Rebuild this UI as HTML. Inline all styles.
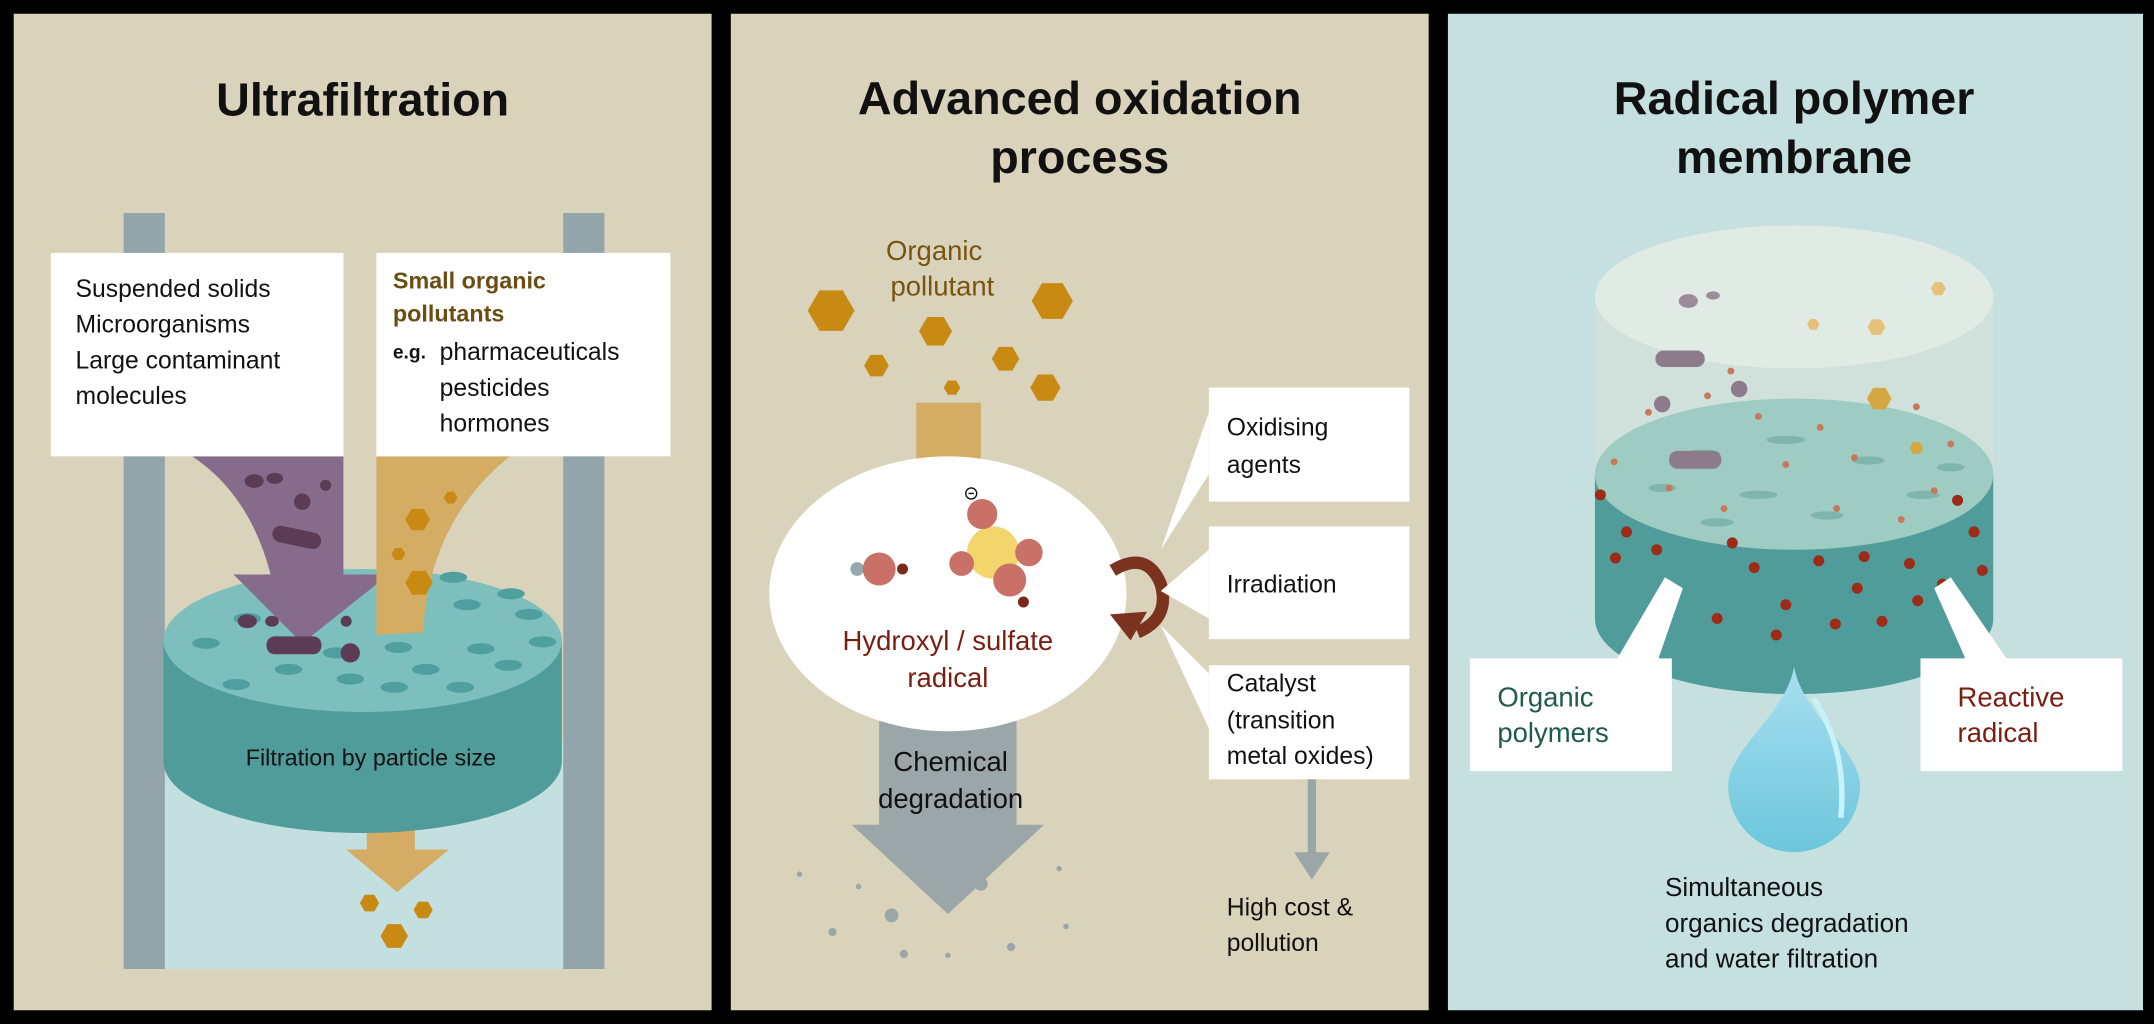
<!DOCTYPE html>
<html><head><meta charset="utf-8"><style>
html,body{margin:0;padding:0;background:#000;}
svg{display:block;}
text{font-family:"Liberation Sans",sans-serif;}
</style></head><body>
<svg width="2154" height="1024" viewBox="0 0 1568 745" preserveAspectRatio="none" xmlns="http://www.w3.org/2000/svg">
<defs>
<g id="hex"><polygon points="-0.25,-0.433 0.25,-0.433 0.5,0 0.25,0.433 -0.25,0.433 -0.5,0"/></g>
<linearGradient id="drop" x1="0" y1="0" x2="0" y2="1"><stop offset="0" stop-color="#a8dff0"/><stop offset="1" stop-color="#6cc6dc"/></linearGradient>
</defs>
<rect width="1568" height="745" fill="#000"/>
<!-- Panel 1 -->
<rect x="10" y="10" width="508" height="725" fill="#d9d3bb"/>
<text x="264" y="84" font-size="34" font-weight="bold" text-anchor="middle" fill="#111">Ultrafiltration</text>
<rect x="120" y="540" width="290" height="165" fill="#c4dfe0"/>
<rect x="90" y="155" width="30" height="550" fill="#93a5aa"/>
<rect x="410" y="155" width="30" height="550" fill="#93a5aa"/>
<path d="M267 510 L302 510 L302 618 L327 618 L289 649 L252 618 L267 618 Z" fill="#d4ac63"/>
<path d="M119 466 L119 554 A145 52 0 0 0 409 554 L409 466 Z" fill="#4f9c9a"/>
<ellipse cx="264" cy="466" rx="145" ry="52" fill="#7dbfbd"/>
<g fill="#4e9f9e">
<ellipse cx="200" cy="428" rx="10" ry="4"/><ellipse cx="240" cy="418" rx="10" ry="4"/><ellipse cx="330" cy="420" rx="10" ry="4"/><ellipse cx="372" cy="432" rx="10" ry="4"/>
<ellipse cx="180" cy="450" rx="10" ry="4"/><ellipse cx="223" cy="440" rx="10" ry="4"/><ellipse cx="340" cy="440" rx="10" ry="4"/><ellipse cx="385" cy="447" rx="10" ry="4"/>
<ellipse cx="150" cy="468" rx="10" ry="4"/><ellipse cx="245" cy="475" rx="10" ry="4"/><ellipse cx="290" cy="471" rx="10" ry="4"/><ellipse cx="350" cy="472" rx="10" ry="4"/><ellipse cx="395" cy="467" rx="10" ry="4"/>
<ellipse cx="210" cy="487" rx="10" ry="4"/><ellipse cx="255" cy="494" rx="10" ry="4"/><ellipse cx="310" cy="487" rx="10" ry="4"/><ellipse cx="370" cy="484" rx="10" ry="4"/>
<ellipse cx="172" cy="498" rx="10" ry="4"/><ellipse cx="287" cy="500" rx="10" ry="4"/><ellipse cx="335" cy="500" rx="10" ry="4"/>
</g>
<path d="M140 332 L250 332 L250 418 L283 418 L220 468 L170 418 L197 418 Q182 360 140 332 Z" fill="#876b8a"/>
<path d="M274 332 L371 332 Q312 380 308 460 L274 462 Z" fill="#d4ac63"/>
<g fill="#5c3b55">
<ellipse cx="185" cy="350" rx="7" ry="5"/><ellipse cx="200" cy="348" rx="6" ry="4"/><circle cx="220" cy="365" r="6"/><circle cx="237" cy="353" r="4"/>
<rect x="198" y="385" width="36" height="12" rx="6" transform="rotate(12 216 391)"/>
<ellipse cx="180" cy="452" rx="7" ry="5"/><ellipse cx="198" cy="452" rx="5" ry="4"/><circle cx="252" cy="452" r="4"/>
<rect x="194" y="463" width="40" height="13" rx="6"/><circle cx="255" cy="475" r="7"/>
</g>
<g fill="#c98a14">
<use href="#hex" transform="translate(304,378) scale(18)"/><use href="#hex" transform="translate(328,362) scale(10)"/><use href="#hex" transform="translate(290,403) scale(10)"/><use href="#hex" transform="translate(305,424) scale(20)"/>
</g>
<g fill="#c98a14"><use href="#hex" transform="translate(269,657) scale(14)"/><use href="#hex" transform="translate(308,662) scale(14)"/><use href="#hex" transform="translate(287,681) scale(20)"/></g>
<text x="270" y="557" font-size="17" text-anchor="middle" fill="#111">Filtration by particle size</text>
<rect x="37" y="184" width="213" height="148" fill="#fff"/>
<rect x="274" y="184" width="214" height="148" fill="#fff"/>
<g font-size="18" fill="#111"><text x="55" y="216">Suspended solids</text><text x="55" y="242">Microorganisms</text><text x="55" y="268">Large contaminant</text><text x="55" y="294">molecules</text></g>
<g font-size="17" font-weight="bold" fill="#6b4c12"><text x="286" y="210">Small organic</text><text x="286" y="234">pollutants</text></g>
<text x="286" y="261" font-size="14" font-weight="bold" fill="#111">e.g.</text>
<g font-size="18" fill="#111"><text x="320" y="262">pharmaceuticals</text><text x="320" y="288">pesticides</text><text x="320" y="314">hormones</text></g>

<!-- Panel 2 -->
<rect x="532" y="10" width="508" height="725" fill="#d9d3bb"/>
<text x="786" y="83" font-size="34" font-weight="bold" text-anchor="middle" fill="#111">Advanced oxidation</text>
<text x="786" y="126" font-size="34" font-weight="bold" text-anchor="middle" fill="#111">process</text>
<text x="680" y="189" font-size="20" text-anchor="middle" fill="#7a5310">Organic</text>
<text x="686" y="215" font-size="20" text-anchor="middle" fill="#7a5310">pollutant</text>
<g fill="#c98a14">
<use href="#hex" transform="translate(605,226) scale(34)"/><use href="#hex" transform="translate(681,241) scale(24)"/><use href="#hex" transform="translate(766,219) scale(30)"/>
<use href="#hex" transform="translate(638,266) scale(18)"/><use href="#hex" transform="translate(732,261) scale(20)"/><use href="#hex" transform="translate(761,282) scale(22)"/><use href="#hex" transform="translate(693,282) scale(12)"/>
</g>
<rect x="667" y="293" width="47" height="45" fill="#d4ac63"/>
<path d="M640 520 L740 520 L740 600 L760 600 L690 665 L620 600 L640 600 Z" fill="#9aa6a7"/>
<g fill="#9aa6a7"><circle cx="582" cy="636" r="2"/><circle cx="606" cy="678" r="3"/><circle cx="625" cy="645" r="2"/><circle cx="649" cy="666" r="5"/><circle cx="658" cy="694" r="3"/><circle cx="714" cy="643" r="5"/><circle cx="736" cy="689" r="3"/><circle cx="771" cy="632" r="2"/><circle cx="690" cy="695" r="2"/><circle cx="776" cy="674" r="2"/></g>
<ellipse cx="690" cy="432" rx="130" ry="100" fill="#fff"/>
<circle cx="624" cy="414" r="5" fill="#93a9ad"/><circle cx="640" cy="414" r="12" fill="#c97167"/><circle cx="657" cy="414" r="4" fill="#7a2a17"/>
<circle cx="723" cy="402" r="19" fill="#f4d56b"/>
<circle cx="715" cy="374" r="11" fill="#c97167"/><circle cx="700" cy="410" r="9" fill="#c97167"/><circle cx="749" cy="402" r="10" fill="#c97167"/><circle cx="735" cy="422" r="12" fill="#c97167"/><circle cx="745" cy="438" r="4" fill="#7a2a17"/>
<circle cx="707" cy="359" r="4" fill="none" stroke="#111" stroke-width="1"/><line x1="705" y1="359" x2="709" y2="359" stroke="#111"/>
<text x="690" y="473" font-size="20" text-anchor="middle" fill="#7a1e12">Hydroxyl / sulfate</text>
<text x="690" y="500" font-size="20" text-anchor="middle" fill="#7a1e12">radical</text>
<text x="692" y="561" font-size="20" text-anchor="middle" fill="#111">Chemical</text>
<text x="692" y="588" font-size="20" text-anchor="middle" fill="#111">degradation</text>
<path d="M810 415 Q835 400 845 425 Q852 450 828 460" fill="none" stroke="#7b3320" stroke-width="9"/>
<polygon points="808,447 835,445 823,466" fill="#7b3320"/>
<polygon points="845,400 880,345 880,300" fill="#fff"/>
<polygon points="845,430 880,400 880,450" fill="#fff"/>
<polygon points="845,455 880,490 880,530" fill="#fff"/>
<rect x="880" y="282" width="146" height="83" fill="#fff"/>
<rect x="880" y="383" width="146" height="82" fill="#fff"/>
<rect x="880" y="484" width="146" height="83" fill="#fff"/>
<g font-size="18" fill="#111"><text x="893" y="317">Oxidising</text><text x="893" y="344">agents</text><text x="893" y="431">Irradiation</text>
<text x="893" y="503">Catalyst</text><text x="893" y="530">(transition</text><text x="893" y="556">metal oxides)</text>
<text x="893" y="666">High cost &amp;</text><text x="893" y="692">pollution</text></g>
<rect x="952" y="567" width="6" height="55" fill="#9aa6a7"/><polygon points="942,620 968,620 955,640" fill="#9aa6a7"/>

<!-- Panel 3 -->
<rect x="1054" y="10" width="506" height="725" fill="#c5e0df"/>
<text x="1306" y="83" font-size="34" font-weight="bold" text-anchor="middle" fill="#111">Radical polymer</text>
<text x="1306" y="126" font-size="34" font-weight="bold" text-anchor="middle" fill="#111">membrane</text>
<path d="M1161 216 L1161 345 L1451 345 L1451 216 Z" fill="#d0e0da"/>
<ellipse cx="1306" cy="216" rx="145" ry="52" fill="#e0ebe6"/>
<path d="M1161 345 L1161 450 A145 55 0 0 0 1451 450 L1451 345 Z" fill="#4f9c9a"/>
<ellipse cx="1306" cy="345" rx="145" ry="55" fill="#9ecbc2"/>
<g fill="#7eb6ae"><ellipse cx="1240" cy="330" rx="12" ry="3"/><ellipse cx="1300" cy="320" rx="14" ry="3"/><ellipse cx="1360" cy="335" rx="12" ry="3"/><ellipse cx="1210" cy="355" rx="10" ry="3"/><ellipse cx="1280" cy="360" rx="14" ry="3"/><ellipse cx="1400" cy="360" rx="12" ry="3"/><ellipse cx="1330" cy="375" rx="12" ry="3"/><ellipse cx="1250" cy="380" rx="12" ry="3"/><ellipse cx="1420" cy="340" rx="10" ry="3"/></g>
<g fill="#c8785a"><circle cx="1200" cy="300" r="2.5"/><circle cx="1243" cy="288" r="2.5"/><circle cx="1280" cy="303" r="2.5"/><circle cx="1325" cy="311" r="2.5"/><circle cx="1395" cy="296" r="2.5"/><circle cx="1420" cy="323" r="2.5"/><circle cx="1175" cy="336" r="2.5"/><circle cx="1215" cy="355" r="2.5"/><circle cx="1300" cy="338" r="2.5"/><circle cx="1350" cy="333" r="2.5"/><circle cx="1408" cy="357" r="2.5"/><circle cx="1255" cy="370" r="2.5"/><circle cx="1337" cy="370" r="2.5"/><circle cx="1384" cy="378" r="2.5"/><circle cx="1260" cy="270" r="2.5"/></g>
<g fill="#9c2c17"><circle cx="1165" cy="360" r="4"/><circle cx="1184" cy="387" r="4"/><circle cx="1206" cy="400" r="4"/><circle cx="1176" cy="406" r="4"/><circle cx="1261" cy="395" r="4"/><circle cx="1277" cy="413" r="4"/><circle cx="1324" cy="408" r="4"/><circle cx="1357" cy="405" r="4"/><circle cx="1390" cy="410" r="4"/><circle cx="1414" cy="425" r="4"/><circle cx="1437" cy="387" r="4"/><circle cx="1443" cy="415" r="4"/><circle cx="1425" cy="364" r="4"/><circle cx="1300" cy="440" r="4"/><circle cx="1352" cy="428" r="4"/><circle cx="1336" cy="454" r="4"/><circle cx="1370" cy="452" r="4"/><circle cx="1214" cy="430" r="4"/><circle cx="1250" cy="450" r="4"/><circle cx="1293" cy="462" r="4"/><circle cx="1396" cy="437" r="4"/></g>
<g fill="#9d8a9a"><ellipse cx="1229" cy="219" rx="7" ry="5"/><ellipse cx="1247" cy="215" rx="5" ry="3"/><rect x="1205" y="255" width="36" height="12" rx="6" fill="#8d7b8c"/><circle cx="1210" cy="294" r="6" fill="#8d7b8c"/><circle cx="1266" cy="283" r="6" fill="#8d7b8c"/><rect x="1215" y="328" width="38" height="13" rx="6" fill="#8d7b8c"/></g>
<g fill="#e6c17a"><use href="#hex" transform="translate(1411,210) scale(11)"/><use href="#hex" transform="translate(1320,236) scale(9)"/><use href="#hex" transform="translate(1366,238) scale(13)"/></g>
<g fill="#d6a843"><use href="#hex" transform="translate(1368,290) scale(18)"/><use href="#hex" transform="translate(1395,326) scale(10)"/></g>
<path d="M1306 485 C1300 520 1258 545 1258 572 A48 48 0 0 0 1354 572 C1354 545 1312 520 1306 485 Z" fill="url(#drop)"/>
<path d="M1320 508 Q1345 545 1340 595" fill="none" stroke="#c8f2f8" stroke-width="4"/>
<polygon points="1165,500 1212,420 1225,428 1200,500" fill="#fff"/>
<polygon points="1440,500 1408,428 1420,420 1475,500" fill="#fff"/>
<rect x="1070" y="479" width="147" height="82" fill="#fff"/>
<rect x="1398" y="479" width="147" height="82" fill="#fff"/>
<g font-size="20"><text x="1090" y="514" fill="#1f5a4a">Organic</text><text x="1090" y="540" fill="#1f5a4a">polymers</text>
<text x="1425" y="514" fill="#7a1e12">Reactive</text><text x="1425" y="540" fill="#7a1e12">radical</text></g>
<g font-size="19" fill="#111"><text x="1212" y="652">Simultaneous</text><text x="1212" y="678">organics degradation</text><text x="1212" y="704">and water filtration</text></g>
</svg>
</body></html>
